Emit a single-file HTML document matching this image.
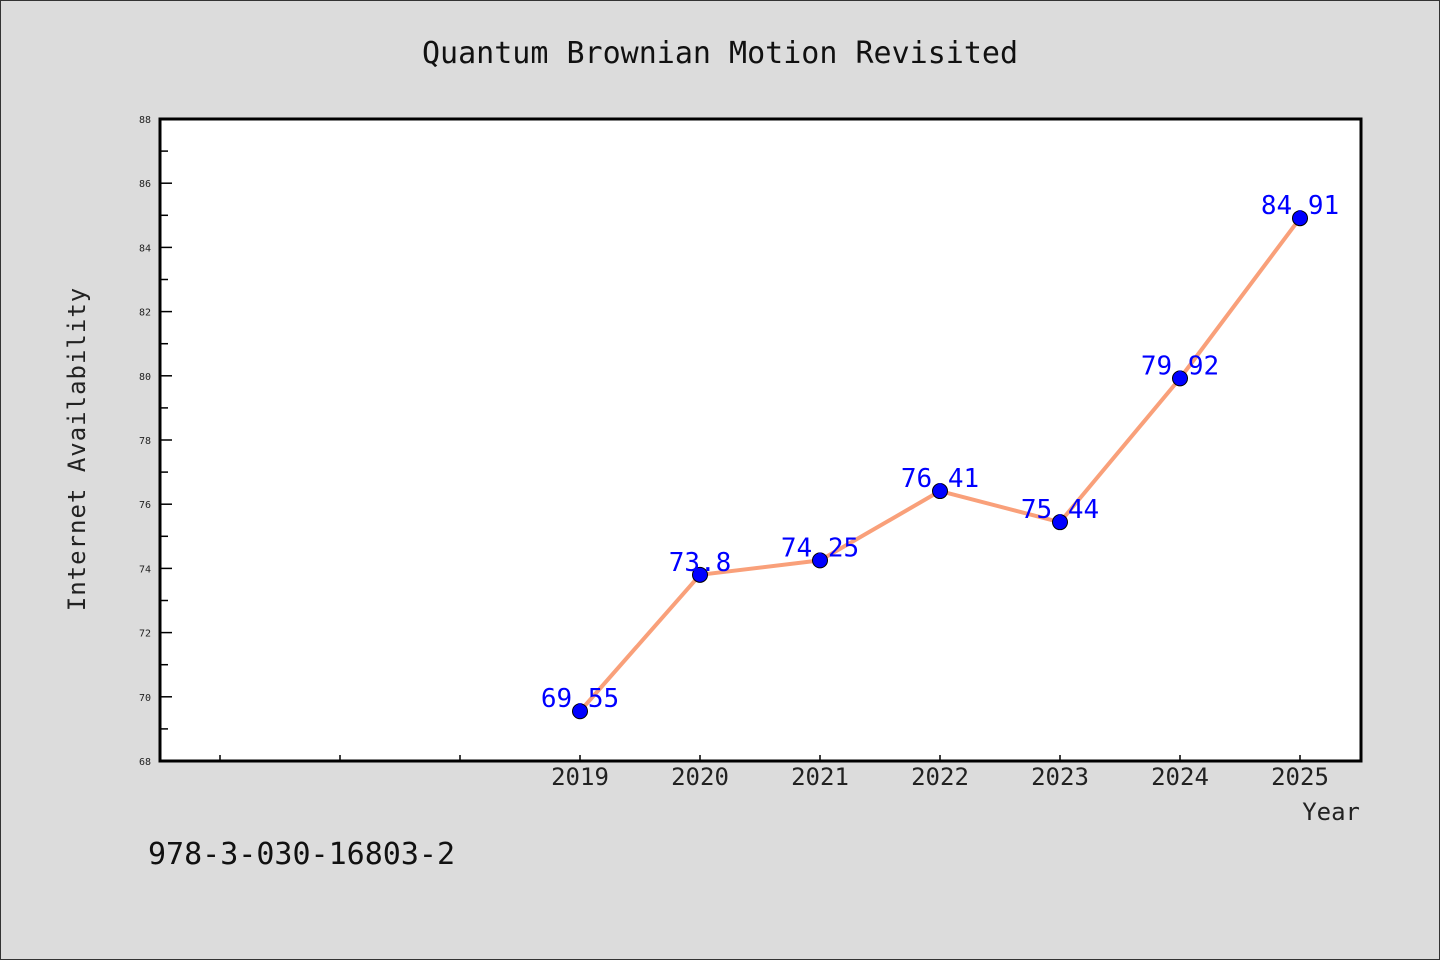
<!DOCTYPE html>
<html><head><meta charset="utf-8"><style>
body{margin:0;background:#dcdcdc}
svg{display:block;font-family:"WenQuanYi Zen Hei","DejaVu Sans Mono",monospace}
</style></head><body>
<svg id="chart" width="1440" height="960" xmlns="http://www.w3.org/2000/svg">
<rect x="0.5" y="0.5" width="1439" height="959" fill="#dcdcdc" stroke="#333"/>
<text x="720" y="63" font-size="30" text-anchor="middle" fill="#111">Quantum Brownian Motion Revisited</text>
<rect x="160" y="119" width="1201" height="642" fill="#fff" stroke="#000" stroke-width="3"/>
<g id="yaxis"></g>
<g id="xaxis"></g>
<text transform="translate(85,449) rotate(-90)" font-size="24" text-anchor="middle" fill="#222" letter-spacing="1">Internet Availability</text>
<text x="1360" y="820" font-size="24" text-anchor="end" fill="#222">Year</text>
<text x="148" y="864" font-size="30" fill="#111">978-3-030-16803-2</text>
<g id="series"></g>
</svg>
<script>
const years=[2019,2020,2021,2022,2023,2024,2025];
const values=[69.55,73.8,74.25,76.41,75.44,79.92,84.91];
const labels=["69.55","73.8","74.25","76.41","75.44","79.92","84.91"];
const yTicks=[68,70,72,74,76,78,80,82,84,86,88];
const xTickYears=[2016,2017,2018,2019,2020,2021,2022,2023,2024,2025];
const NS="http://www.w3.org/2000/svg";
const X0=160,X1=1361,Y0=761,Y1=119;
const xs=y=>580+(y-2019)*120;
const ys=v=>Y0-(v-68)/(88-68)*(Y0-Y1);
function mk(t,a,p){const e=document.createElementNS(NS,t);for(const k in a)e.setAttribute(k,a[k]);p.appendChild(e);return e;}
const ya=document.getElementById('yaxis'),xa=document.getElementById('xaxis'),sg=document.getElementById('series');
yTicks.forEach(v=>{
  const y=ys(v);
  const l=mk('line',{x1:X0,x2:X0+12,y1:y,y2:y,stroke:'#000','stroke-width':1.5},ya);
  
  
  const t=mk('text',{x:151,y:y+4,'font-size':10,'text-anchor':'end',fill:'#222'},ya);
  t.textContent=v;
  
  
  if(v<88){const m=mk('line',{x1:X0,x2:X0+8,y1:ys(v+1),y2:ys(v+1),stroke:'#000','stroke-width':1.5},ya);
  
  }
});
xTickYears.forEach(yr=>{
  const x=xs(yr);
  const l=mk('line',{x1:x,x2:x,y1:Y0,y2:Y0-6,stroke:'#000','stroke-width':1.5},xa);
  
  
});
years.forEach(yr=>{
  const t=mk('text',{x:xs(yr),y:785,'font-size':24,'text-anchor':'middle',fill:'#222'},xa);
  t.textContent=yr;
  
  
});
const line=mk('polyline',{points:years.map((yr,i)=>xs(yr)+','+ys(values[i])).join(' '),fill:'none',stroke:'#f9a07a','stroke-width':4,'stroke-linejoin':'round'},sg);


years.forEach((yr,i)=>{
  const c=mk('circle',{cx:xs(yr),cy:ys(values[i]),r:7.5,fill:'#0000ff',stroke:'#000','stroke-width':1},sg);
  
  
});
years.forEach((yr,i)=>{
  const t=mk('text',{x:xs(yr),y:ys(values[i])-4,'font-size':26,'text-anchor':'middle',fill:'#0000ff'},sg);
  t.textContent=labels[i];
  
  
});
</script>
</body></html>
